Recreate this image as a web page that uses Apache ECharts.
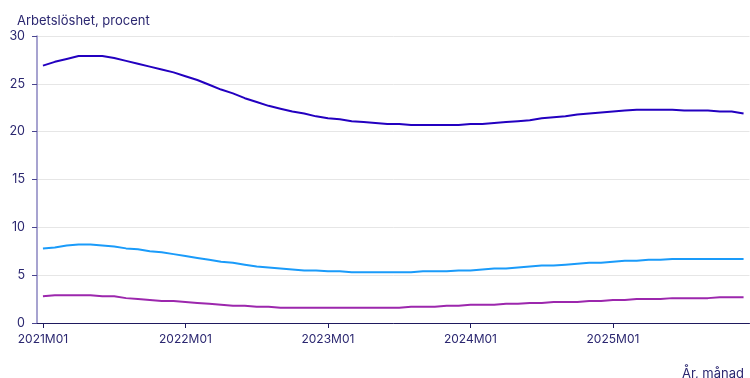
<!DOCTYPE html>
<html>
<head>
<meta charset="utf-8">
<script src="https://cdn.jsdelivr.net/npm/echarts@6/dist/echarts.min.js"></script>
<style>
  html, body { margin: 0; padding: 0; background: #fff; }
  #chart { width: 750px; height: 378px; }
</style>
</head>
<body>
<div id="chart"></div>
<script>
// Monthly categories 2021M01 .. 2025M12
const years = [2021, 2022, 2023, 2024, 2025];
const months = [];
years.forEach(y => {
  for (let m = 1; m <= 12; m++) months.push(y + 'M' + String(m).padStart(2, '0'));
});

// Unemployment rate, percent
const seriesHigh = [
  26.9, 27.3, 27.6, 27.9, 27.9, 27.9, 27.7, 27.4, 27.1, 26.8, 26.5, 26.2,
  25.8, 25.4, 24.9, 24.4, 24.0, 23.5, 23.1, 22.7, 22.4, 22.1, 21.9, 21.6,
  21.4, 21.3, 21.1, 21.0, 20.9, 20.8, 20.8, 20.7, 20.7, 20.7, 20.7, 20.7,
  20.8, 20.8, 20.9, 21.0, 21.1, 21.2, 21.4, 21.5, 21.6, 21.8, 21.9, 22.0,
  22.1, 22.2, 22.3, 22.3, 22.3, 22.3, 22.2, 22.2, 22.2, 22.1, 22.1, 21.9
];
const seriesMid = [
  7.8, 7.9, 8.1, 8.2, 8.2, 8.1, 8.0, 7.8, 7.7, 7.5, 7.4, 7.2,
  7.0, 6.8, 6.6, 6.4, 6.3, 6.1, 5.9, 5.8, 5.7, 5.6, 5.5, 5.5,
  5.4, 5.4, 5.3, 5.3, 5.3, 5.3, 5.3, 5.3, 5.4, 5.4, 5.4, 5.5,
  5.5, 5.6, 5.7, 5.7, 5.8, 5.9, 6.0, 6.0, 6.1, 6.2, 6.3, 6.3,
  6.4, 6.5, 6.5, 6.6, 6.6, 6.7, 6.7, 6.7, 6.7, 6.7, 6.7, 6.7
];
const seriesLow = [
  2.8, 2.9, 2.9, 2.9, 2.9, 2.8, 2.8, 2.6, 2.5, 2.4, 2.3, 2.3,
  2.2, 2.1, 2.0, 1.9, 1.8, 1.8, 1.7, 1.7, 1.6, 1.6, 1.6, 1.6,
  1.6, 1.6, 1.6, 1.6, 1.6, 1.6, 1.6, 1.7, 1.7, 1.7, 1.8, 1.8,
  1.9, 1.9, 1.9, 2.0, 2.0, 2.1, 2.1, 2.2, 2.2, 2.2, 2.3, 2.3,
  2.4, 2.4, 2.5, 2.5, 2.5, 2.6, 2.6, 2.6, 2.6, 2.7, 2.7, 2.7
];

const yTicks = [0, 5, 10, 15, 20, 25, 30];
const textColor = '#2b2770';
const fontFamily = 'Inter, "Noto Sans", sans-serif';

const chart = echarts.init(document.getElementById('chart'), null, { renderer: 'canvas' });

function line(data, color) {
  return {
    type: 'line',
    data: data,
    symbol: 'none',
    smooth: false,
    lineStyle: { color: color, width: 2 },
    itemStyle: { color: color },
    emphasis: { disabled: true }
  };
}

chart.setOption({
  animation: false,
  backgroundColor: '#ffffff',
  textStyle: { fontFamily: fontFamily },
  title: [
    {
      text: 'Arbetslöshet, procent',
      left: 12, top: 10,
      textStyle: { fontSize: 13, fontWeight: 'normal', color: textColor, fontFamily: fontFamily }
    },
    {
      text: 'År, månad',
      right: 1, top: 363,
      textStyle: { fontSize: 13, fontWeight: 'normal', color: textColor, fontFamily: fontFamily }
    }
  ],
  grid: { left: 37, right: 0.5, top: 36, bottom: 55, containLabel: false },
  xAxis: {
    type: 'category',
    data: months,
    boundaryGap: true,
    axisLine: { lineStyle: { color: '#1f1a5e', width: 1 } },
    axisTick: { show: true, interval: 11, alignWithLabel: true, length: 5, lineStyle: { color: '#1f1a5e' } },
    axisLabel: { interval: 11, color: textColor, fontSize: 12, margin: 10, fontFamily: fontFamily },
    splitLine: { show: false }
  },
  yAxis: {
    type: 'value',
    min: yTicks[0],
    max: yTicks[yTicks.length - 1],
    interval: 5,
    axisLine: { show: true, lineStyle: { color: '#8a84c0', width: 1.5 } },
    axisTick: { show: true, length: 5, lineStyle: { color: '#4a4590' } },
    axisLabel: { color: textColor, fontSize: 12.5, margin: 12, fontFamily: fontFamily },
    splitLine: { show: true, lineStyle: { color: '#e6e6e6', width: 1 } }
  },
  series: [
    line(seriesHigh, '#2300c0'),
    line(seriesMid, '#1a9bfa'),
    line(seriesLow, '#9c27ad')
  ]
});
</script>
</body>
</html>
